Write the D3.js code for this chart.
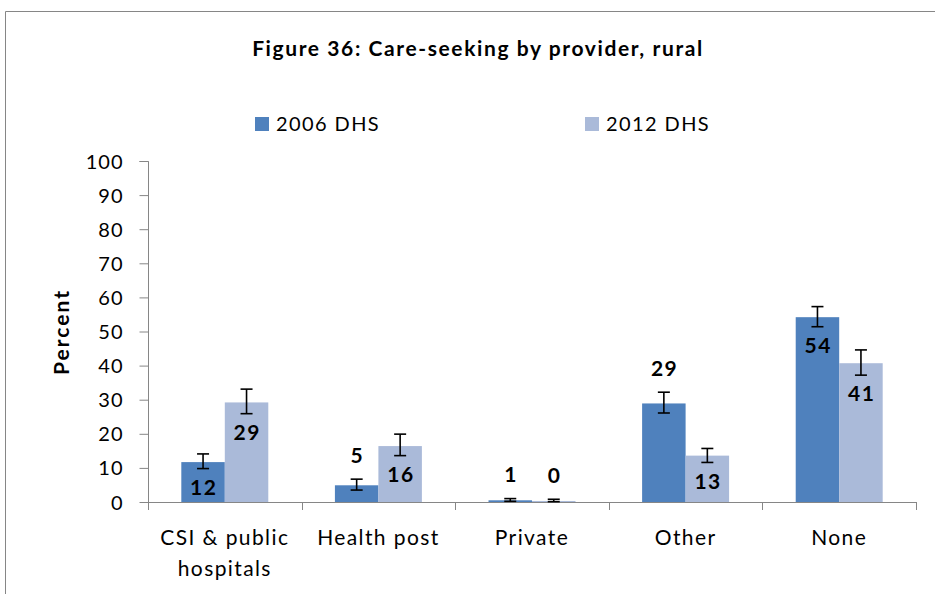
<!DOCTYPE html>
<html><head><meta charset="utf-8">
<script src="https://cdn.jsdelivr.net/npm/d3@7/dist/d3.min.js"></script>
<style>
body{margin:0;background:#fff;}
svg{font-family:Lato, "Open Sans", sans-serif;}
</style></head>
<body><svg id="c" width="935" height="594"></svg>
<script>
const categories = ["CSI & public hospitals", "Health post", "Private", "Other", "None"];
const categoryLines = [["CSI & public", "hospitals"], ["Health post"], ["Private"], ["Other"], ["None"]];
const seriesNames = ["2006 DHS", "2012 DHS"];
const values2006 = [11.7, 4.9, 0.5, 28.9, 54.2];
const values2012 = [29.2, 16.4, 0.3, 13.6, 40.7];
const low2006 = [9.8, 3.5, 0.2, 26.1, 51.4];
const high2006 = [14.1, 6.7, 1.0, 32.2, 57.3];
const low2012 = [25.9, 13.6, 0.1, 11.6, 37.2];
const high2012 = [33.1, 19.9, 0.8, 15.7, 44.6];
const labels2006 = ["12", "5", "1", "29", "54"];
const labels2012 = ["29", "16", "0", "13", "41"];
const labelPlace2006 = ["in", "out", "out", "out", "in"];
const labelPlace2012 = ["in", "in", "out", "in", "in"];
const yTicks = [0, 10, 20, 30, 40, 50, 60, 70, 80, 90, 100];
const colors = ["#4F81BD", "#AABAD9"];

const svg = d3.select("#c");
const axisColor = "#868686";

// outer border
svg.append("path").attr("d", "M5.5,600 V11.5 H940").attr("fill", "none").attr("stroke", axisColor).attr("stroke-width", 1);

const x0 = d3.scaleBand().domain(categories).range([148, 916]).paddingInner(0).paddingOuter(0);
const x1 = d3.scaleBand().domain(seriesNames).range([0, x0.bandwidth()]).paddingInner(0).paddingOuter(0.766);
const y = d3.scaleLinear().domain([0, 100]).range([502, 161]);

// title
svg.append("text").attr("x", 478).attr("y", 56).attr("text-anchor", "middle")
  .attr("font-weight", "bold").attr("font-size", 21).attr("letter-spacing", 1.6).attr("fill", "#000")
  .text("Figure 36: Care-seeking by provider, rural");

// legend
const legX = [255, 585];
seriesNames.forEach((s, i) => {
  svg.append("rect").attr("x", legX[i]).attr("y", 117).attr("width", 14).attr("height", 14).attr("fill", colors[i]);
  svg.append("text").attr("x", legX[i] + 21).attr("y", 131).attr("font-size", 20).attr("letter-spacing", 1.4).attr("fill", "#000").text(s);
});

// y axis
const yAxis = d3.axisLeft(y).tickValues(yTicks).tickSize(9).tickPadding(16);
const gy = svg.append("g").attr("transform", "translate(148.5,0)").call(yAxis);
gy.select(".domain").attr("stroke", axisColor).attr("d", "M-9,161.5H0V502.5");
gy.selectAll(".tick line").attr("stroke", axisColor);
gy.selectAll(".tick text").attr("font-size", 20).attr("letter-spacing", 1).attr("fill", "#000").attr("font-family", "Lato, sans-serif").attr("dy", "0.35em");

// y title
svg.append("text").attr("transform", "translate(69,332) rotate(-90)").attr("text-anchor", "middle")
  .attr("font-weight", "bold").attr("font-size", 21).attr("letter-spacing", 2).attr("fill", "#000").text("Percent");

// x axis
svg.append("line").attr("x1", 148).attr("x2", 916).attr("y1", 502.5).attr("y2", 502.5).attr("stroke", axisColor);
const bounds = categories.map(c => x0(c)).concat([x0.range()[1]]);
svg.selectAll(".xt").data(bounds).enter().append("line")
  .attr("x1", d => Math.round(d) + 0.5).attr("x2", d => Math.round(d) + 0.5)
  .attr("y1", 502).attr("y2", 510).attr("stroke", axisColor);
categories.forEach((c, i) => {
  const cx = x0(c) + x0.bandwidth() / 2;
  const t = svg.append("text").attr("x", cx).attr("y", 545)
    .attr("text-anchor", "middle").attr("font-size", 21).attr("letter-spacing", 1.4).attr("fill", "#000");
  categoryLines[i].forEach((ln, j) => {
    t.append("tspan").attr("x", cx).attr("dy", j === 0 ? 0 : 31).text(ln);
  });
});

// bars
const series = [
  {name: seriesNames[0], v: values2006, lo: low2006, hi: high2006, lab: labels2006, pl: labelPlace2006},
  {name: seriesNames[1], v: values2012, lo: low2012, hi: high2012, lab: labels2012, pl: labelPlace2012}
];
series.forEach((s, si) => {
  const g = svg.append("g");
  categories.forEach((c, i) => {
    const bx = x0(c) + x1(s.name);
    const bw = x1.bandwidth();
    g.append("rect").attr("x", bx).attr("y", y(s.v[i])).attr("width", bw)
      .attr("height", y(0) - y(s.v[i])).attr("fill", colors[si]);
    const cx = bx + bw / 2;
    // error bar
    g.append("line").attr("x1", cx).attr("x2", cx).attr("y1", y(s.hi[i])).attr("y2", y(s.lo[i])).attr("stroke", "#000").attr("stroke-width", 1.6);
    [s.hi[i], s.lo[i]].forEach(e => {
      g.append("line").attr("x1", cx - 6).attr("x2", cx + 6).attr("y1", y(e)).attr("y2", y(e)).attr("stroke", "#000").attr("stroke-width", 1.6);
    });
    const ly = s.pl[i] === "in" ? y(s.lo[i]) + 19 : y(s.hi[i]) - 24;
    g.append("text").attr("x", cx + 0.75).attr("y", ly).attr("dy", "0.35em").attr("text-anchor", "middle")
      .attr("font-weight", "bold").attr("font-size", 21).attr("letter-spacing", 1.5).attr("fill", "#000").text(s.lab[i]);
  });
});
</script></body></html>
